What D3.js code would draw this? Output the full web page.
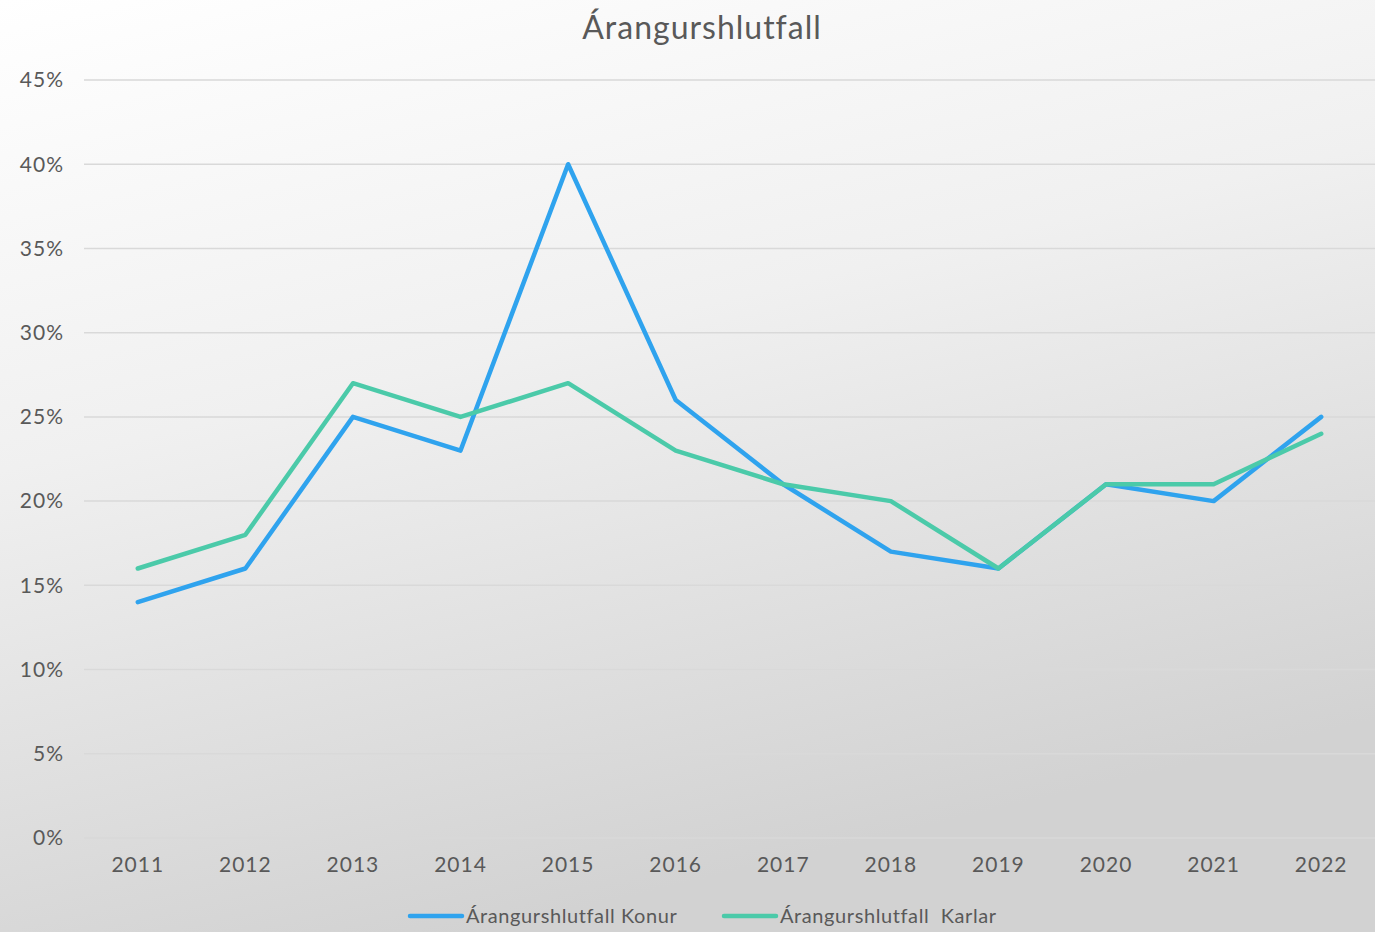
<!DOCTYPE html>
<html>
<head>
<meta charset="utf-8">
<script src="https://cdn.jsdelivr.net/npm/d3@7"></script>
<style>
	body { margin: 0; }
	svg { display: block; }
</style>
</head>
<body>
<svg id="chart" width="1375" height="932" font-family="Lato, 'DejaVu Sans', sans-serif"></svg>
<script>
var years = ["2011", "2012", "2013", "2014", "2015", "2016", "2017", "2018", "2019", "2020", "2021", "2022"];
var konur = [0.14, 0.16, 0.25, 0.23, 0.40, 0.26, 0.21, 0.17, 0.16, 0.21, 0.20, 0.25];
var karlar = [0.16, 0.18, 0.27, 0.25, 0.27, 0.23, 0.21, 0.20, 0.16, 0.21, 0.21, 0.24];
var yTicks = [0, 0.05, 0.10, 0.15, 0.20, 0.25, 0.30, 0.35, 0.40, 0.45];
var seriesNames = ["Árangurshlutfall Konur", "Árangurshlutfall  Karlar"];
var seriesColors = ["#2fa3ee", "#4bcaa9"];

var svg = d3.select("#chart"),
	width = +svg.attr("width"),
	height = +svg.attr("height");

// background gradient
var defs = svg.append("defs");
var grad = defs.append("linearGradient")
	.attr("id", "bg")
	.attr("x1", "0").attr("y1", "0")
	.attr("x2", "0.35").attr("y2", "1");
grad.append("stop").attr("offset", "0").attr("stop-color", "#ffffff");
grad.append("stop").attr("offset", "0.45").attr("stop-color", "#f0f0f0");
grad.append("stop").attr("offset", "1").attr("stop-color", "#d2d2d2");
svg.append("rect").attr("width", width).attr("height", height).attr("fill", "url(#bg)");

var x = d3.scaleBand().domain(years).range([84, 1375]);
var y = d3.scaleLinear().domain([0, 0.45]).range([838, 80]);

// gridlines
svg.append("g")
	.selectAll("line")
	.data(yTicks)
	.enter().append("line")
		.attr("x1", 84)
		.attr("x2", 1375)
		.attr("y1", function(d) { return y(d); })
		.attr("y2", function(d) { return y(d); })
		.attr("stroke", "#d9d9d9")
		.attr("stroke-width", 1.5);

// y labels
svg.append("g")
	.selectAll("text")
	.data(yTicks)
	.enter().append("text")
		.attr("x", 64)
		.attr("y", function(d) { return y(d); })
		.attr("dy", "0.35em")
		.attr("text-anchor", "end")
		.attr("font-size", 21)
		.attr("letter-spacing", 1)
		.attr("fill", "#595959")
		.text(d3.format(".0%"));

// x labels
svg.append("g")
	.selectAll("text")
	.data(years)
	.enter().append("text")
		.attr("x", function(d) { return x(d) + x.bandwidth() / 2; })
		.attr("y", 865)
		.attr("dy", "0.35em")
		.attr("text-anchor", "middle")
		.attr("font-size", 21)
		.attr("letter-spacing", 1)
		.attr("fill", "#595959")
		.text(function(d) { return d; });

// lines
var line = d3.line()
	.x(function(d, i) { return x(years[i]) + x.bandwidth() / 2; })
	.y(function(d) { return y(d); });

[konur, karlar].forEach(function(s, i) {
	svg.append("path")
		.datum(s)
		.attr("fill", "none")
		.attr("stroke", seriesColors[i])
		.attr("stroke-width", 4.5)
		.attr("stroke-linejoin", "round")
		.attr("stroke-linecap", "round")
		.attr("d", line);
});

// title
svg.append("text")
	.attr("x", 702)
	.attr("y", 28)
	.attr("dy", "0.35em")
	.attr("text-anchor", "middle")
	.attr("font-size", 32)
	.attr("letter-spacing", 1)
	.attr("fill", "#595959")
	.text("Árangurshlutfall");

// legend
var legendX = [408, 722];
var legend = svg.append("g")
	.selectAll("g")
	.data(seriesNames)
	.enter().append("g")
		.attr("transform", function(d, i) { return "translate(" + legendX[i] + ",916)"; });

legend.append("line")
	.attr("x1", 2)
	.attr("x2", 54)
	.attr("stroke", function(d, i) { return seriesColors[i]; })
	.attr("stroke-width", 4.5)
	.attr("stroke-linecap", "round");

legend.append("text")
	.attr("x", 58)
	.attr("dy", "0.35em")
	.attr("font-size", 20)
	.attr("letter-spacing", 0.6)
	.attr("fill", "#595959")
	.style("white-space", "pre")
	.text(function(d) { return d; });
</script>
</body>
</html>
